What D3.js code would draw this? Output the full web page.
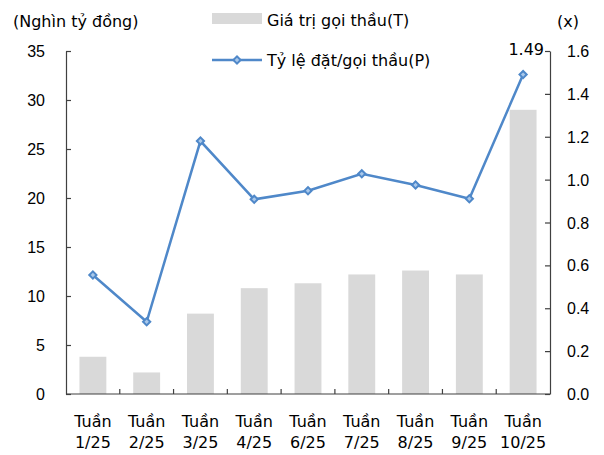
<!DOCTYPE html>
<html>
<head>
<meta charset="utf-8">
<script src="https://cdn.jsdelivr.net/npm/d3@7"></script>
<style>
  html, body { margin: 0; padding: 0; background: #fff; }
  svg { display: block; font-family: "DejaVu Sans", sans-serif; }
  .axis text { font-size: 16px; fill: #000; }
  .axis path, .axis line { stroke: #404040; stroke-width: 1.2; }
  .lbl { font-size: 16px; fill: #000; }
</style>
</head>
<body>
<svg id="chart" width="604" height="455"></svg>
<script>
// Weekly auction data
const weeks = ["1/25", "2/25", "3/25", "4/25", "6/25", "7/25", "8/25", "9/25", "10/25"];
const offerValue = [3.8, 2.2, 8.2, 10.8, 11.3, 12.2, 12.6, 12.2, 29.0];      // Giá trị gọi thầu (nghìn tỷ đồng)
const bidRatio = [0.555, 0.337, 1.18, 0.908, 0.948, 1.027, 0.975, 0.911, 1.49]; // Tỷ lệ đặt/gọi thầu (x)
const leftTicks = [0, 5, 10, 15, 20, 25, 30, 35];
const rightTicks = [0, 0.2, 0.4, 0.6, 0.8, 1.0, 1.2, 1.4, 1.6];

const barColor = "#D9D9D9";
const lineColor = "#4F88C9";
const markerFill = "#A9C8EA";

const svg = d3.select("#chart");
const plot = { left: 66, right: 550, top: 51, bottom: 394 };

const x = d3.scaleBand().domain(weeks).range([plot.left, plot.right]).paddingInner(0.5).paddingOuter(0.25);
const xTick = d3.scaleBand().domain(weeks).range([plot.left, plot.right]);
const yL = d3.scaleLinear().domain([0, 35]).range([plot.bottom, plot.top]);
const yR = d3.scaleLinear().domain([0, 1.6]).range([plot.bottom, plot.top]);

// Bars
svg.append("g").selectAll("rect").data(weeks).join("rect")
  .attr("x", d => x(d))
  .attr("width", x.bandwidth())
  .attr("y", (d, i) => yL(offerValue[i]))
  .attr("height", (d, i) => yL(0) - yL(offerValue[i]))
  .attr("fill", barColor);

// Left axis (ticks point inward)
const gL = svg.append("g").attr("class", "axis").attr("transform", `translate(${plot.left},0)`)
  .call(d3.axisRight(yL).tickValues(leftTicks).tickSize(5).tickSizeOuter(0));
gL.selectAll("text").attr("x", -21).attr("text-anchor", "end").attr("dy", "0.35em");

// Right axis (ticks point inward)
const gR = svg.append("g").attr("class", "axis").attr("transform", `translate(${plot.right},0)`)
  .call(d3.axisLeft(yR).tickValues(rightTicks).tickFormat(d3.format(".1f")).tickSize(5).tickSizeOuter(0));
gR.selectAll("text").attr("x", 17).attr("text-anchor", "start").attr("dy", "0.35em");

// Bottom axis: ticks at category boundaries, pointing up
const gB = svg.append("g").attr("class", "axis").attr("transform", `translate(0,${plot.bottom})`);
gB.append("line").attr("x1", plot.left).attr("x2", plot.right).attr("stroke", "#404040").attr("stroke-width", 1.2);
gB.selectAll("line.tk").data(weeks.slice(1)).join("line").attr("class", "tk")
  .attr("x1", d => xTick(d)).attr("x2", d => xTick(d)).attr("y1", 0).attr("y2", -5)
  .attr("stroke", "#404040").attr("stroke-width", 1.2);
const lbl = gB.selectAll("text").data(weeks).join("text")
  .attr("text-anchor", "middle")
  .attr("transform", d => `translate(${xTick(d) + xTick.bandwidth() / 2},0)`);
lbl.append("tspan").attr("x", 0).attr("y", 33).text("Tuần");
lbl.append("tspan").attr("x", 0).attr("y", 54).text(d => d);

// Line
const cx = d => x(d) + x.bandwidth() / 2;
svg.append("path")
  .datum(weeks)
  .attr("fill", "none")
  .attr("stroke", lineColor)
  .attr("stroke-width", 2.5)
  .attr("d", d3.line().x(cx).y((d, i) => yR(bidRatio[i])));

// Small square-ish diamond markers
const diamond = d3.symbol().type(d3.symbolSquare).size(26);
svg.append("g").selectAll("path").data(weeks).join("path")
  .attr("transform", (d, i) => `translate(${cx(d)},${yR(bidRatio[i])}) rotate(45)`)
  .attr("d", diamond)
  .attr("fill", markerFill)
  .attr("stroke", lineColor)
  .attr("stroke-width", 2);

// Value label on the last point
const last = weeks.length - 1;
svg.append("text").attr("class", "lbl")
  .attr("x", 544).attr("y", 55)
  .attr("text-anchor", "end")
  .text(d3.format(".2f")(bidRatio[last]));

// Axis titles
svg.append("text").attr("class", "lbl").attr("x", 13).attr("y", 27).text("(Nghìn tỷ đồng)");
svg.append("text").attr("class", "lbl").attr("x", 557).attr("y", 27).text("(x)");

// Legend
svg.append("rect").attr("x", 212).attr("y", 13).attr("width", 50).attr("height", 11).attr("fill", barColor);
svg.append("text").attr("class", "lbl").attr("x", 267).attr("y", 26).text("Giá trị gọi thầu(T)");
svg.append("line").attr("x1", 212).attr("x2", 262).attr("y1", 60).attr("y2", 60)
  .attr("stroke", lineColor).attr("stroke-width", 2.5);
svg.append("path").attr("transform", "translate(237,60) rotate(45)").attr("d", diamond)
  .attr("fill", markerFill).attr("stroke", lineColor).attr("stroke-width", 2);
svg.append("text").attr("class", "lbl").attr("x", 267).attr("y", 66).text("Tỷ lệ đặt/gọi thầu(P)");
</script>
</body>
</html>
